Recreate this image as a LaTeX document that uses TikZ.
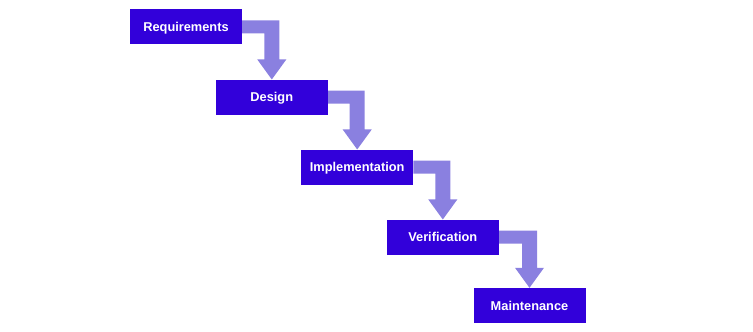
\documentclass[tikz,border=0pt]{standalone}
\usepackage{fontspec}
\setmainfont{Liberation Sans}
\usetikzlibrary{calc}
\definecolor{stagefill}{RGB}{50,0,218}
\definecolor{flowfill}{RGB}{138,128,224}
\begin{document}
\begin{tikzpicture}[x=1pt,y=1pt,
  stagebox/.style={fill=stagefill, draw=none, minimum width=112pt, minimum height=35pt,
    inner sep=0pt, text height=9.2pt, text depth=0pt, text=white,
    font=\fontsize{12.8}{14}\selectfont\bfseries},
  flowarrow/.style={fill=flowfill, draw=none}]
  \useasboundingbox (0,0) rectangle (753,332);
  \node[stagebox] (req)  at (186.0,305.0) {Requirements};
  \node[stagebox] (des)  at (271.8,234.8) {Design};
  \node[stagebox] (impl) at (357.2,164.8) {Implementation};
  \node[stagebox] (ver)  at (442.8,94.8)  {Verification};
  \node[stagebox] (main) at (529.5,26.5)  {Maintenance};
  % bent arrow from the right side of one stage down onto the next
  \foreach \a/\b in {req/des, des/impl, impl/ver, ver/main}{
    \fill[flowarrow]
      ($(\a.east)+(0,6.5)$) -- ($(\b.north |- \a.east)+(7.5,6.5)$)
      -- ($(\b.north)+(7.5,20)$) -- ($(\b.north)+(14.5,20)$)
      -- (\b.north) -- ($(\b.north)+(-14.5,20)$) -- ($(\b.north)+(-7.5,20)$)
      -- ($(\b.north |- \a.east)+(-7.5,-6.5)$) -- ($(\a.east)+(0,-6.5)$) -- cycle;
  }
\end{tikzpicture}
\end{document}
